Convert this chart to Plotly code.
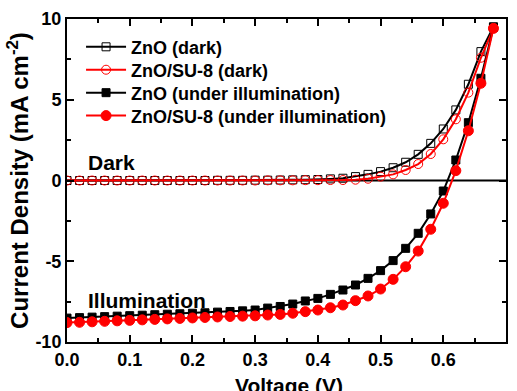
import plotly.graph_objects as go

voltage = [round(0.02 * i, 2) for i in range(35)]

zno_dark = [0.0, 0.0, 0.0, 0.0, 0.0, 0.0, 0.0, 0.0, 0.0, 0.0, 0.0, 0.0, 0.01, 0.01, 0.01,
            0.02, 0.02, 0.03, 0.04, 0.05, 0.06, 0.10, 0.14, 0.24, 0.38, 0.55, 0.79, 1.13,
            1.62, 2.30, 3.19, 4.37, 5.96, 7.98, 9.52]
sue_dark = [0.0, 0.0, 0.0, 0.0, 0.0, 0.0, 0.0, 0.0, 0.0, 0.0, 0.0, 0.0, 0.0, 0.0, 0.0,
            0.0, 0.01, 0.01, 0.01, 0.02, 0.02, 0.03, 0.03, 0.05, 0.11, 0.24, 0.38, 0.65,
            1.02, 1.64, 2.55, 3.79, 5.44, 7.60, 9.42]
zno_light = [-8.52, -8.49, -8.46, -8.43, -8.40, -8.37, -8.34, -8.31, -8.28, -8.25, -8.22,
             -8.19, -8.15, -8.11, -8.07, -8.02, -7.90, -7.80, -7.65, -7.46, -7.30, -7.05,
             -6.78, -6.47, -6.06, -5.58, -4.96, -4.20, -3.27, -2.07, -0.65, 1.27, 3.58,
             6.33, 9.49]
sue_light = [-8.80, -8.78, -8.75, -8.72, -8.69, -8.66, -8.63, -8.60, -8.57, -8.54, -8.51,
             -8.48, -8.45, -8.42, -8.40, -8.38, -8.33, -8.29, -8.22, -8.12, -8.02, -7.88,
             -7.71, -7.44, -7.15, -6.72, -6.12, -5.34, -4.37, -3.02, -1.41, 0.61, 3.08,
             6.02, 9.42]

names = ["ZnO (dark)", "ZnO/SU-8 (dark)", "ZnO (under illumination)", "ZnO/SU-8 (under illumination)"]
y_ticks = [-10, -5, 0, 5, 10]
y_ticktext = ["-10", "-5", "0", "5", "10"]
FONT = "Liberation Sans, Arial"

fig = go.Figure()
fig.add_shape(type="line", xref="paper", yref="y", x0=0, x1=1, y0=0, y1=0,
              line=dict(color="black", width=2), layer="below")
specs = [
    (zno_dark, "black", "square-open", 8),
    (sue_dark, "red", "circle-open", 9),
    (zno_light, "black", "square", 8),
    (sue_light, "red", "circle", 10),
]
legend_ids = ["legend", "legend2", "legend3", "legend4"]
legend_y = [0.913, 0.842, 0.771, 0.700]
for (y, c, sym, sz), n, lid in zip(specs, names, legend_ids):
    fig.add_trace(go.Scatter(x=voltage, y=y, name=n, mode="lines+markers", legend=lid,
                             line=dict(color=c, width=2),
                             marker=dict(symbol=sym, size=sz, color=c,
                                         line=dict(color=c, width=1))))

axis_common = dict(showline=True, linecolor="black", linewidth=2, mirror="allticks",
                   ticks="inside", ticklen=7, tickwidth=2, tickcolor="black",
                   showgrid=False, zeroline=False, automargin=False,
                   tickfont=dict(family=FONT, size=18, color="black", weight="bold"))

fig.update_xaxes(range=[0, 0.7], dtick=0.1, tickformat=".1f",
                 minor=dict(ticks="inside", ticklen=4, tickwidth=2, dtick=0.05, tickcolor="black"),
                 **axis_common)
fig.update_yaxes(range=[-10, 10], tickvals=y_ticks, ticktext=y_ticktext,
                 minor=dict(ticks="inside", ticklen=4, tickwidth=2, dtick=2.5, tickcolor="black"),
                 title=dict(text="Current Density (mA cm<sup>-2</sup>)", standoff=0,
                            font=dict(family=FONT, size=24, color="black", weight="bold")),
                 **axis_common)

fig.add_annotation(x=0.506, y=-0.1347, xref="paper", yref="paper", text="Voltage (V)",
                   showarrow=False, xanchor="center", yanchor="middle",
                   font=dict(family=FONT, size=21, color="black", weight="bold"))
fig.add_annotation(x=0.031, y=1.1, text="Dark", showarrow=False, xanchor="left", yanchor="middle",
                   font=dict(family=FONT, size=21, color="black", weight="bold"))
fig.add_annotation(x=0.031, y=-7.43, text="Illumination", showarrow=False, xanchor="left", yanchor="middle",
                   font=dict(family=FONT, size=21, color="black", weight="bold"))

legend_style = dict(x=0.032, xanchor="left", yanchor="middle", bgcolor="rgba(0,0,0,0)",
                    itemwidth=40,
                    font=dict(family=FONT, size=18, color="black", weight="bold"))
layout_legends = {lid: dict(y=ly, **legend_style) for lid, ly in zip(legend_ids, legend_y)}

fig.update_layout(width=517, height=391, margin=dict(l=67, r=11, t=19, b=49),
                  plot_bgcolor="white", paper_bgcolor="white", showlegend=True,
                  **layout_legends)
fig.write_html("out.html")
